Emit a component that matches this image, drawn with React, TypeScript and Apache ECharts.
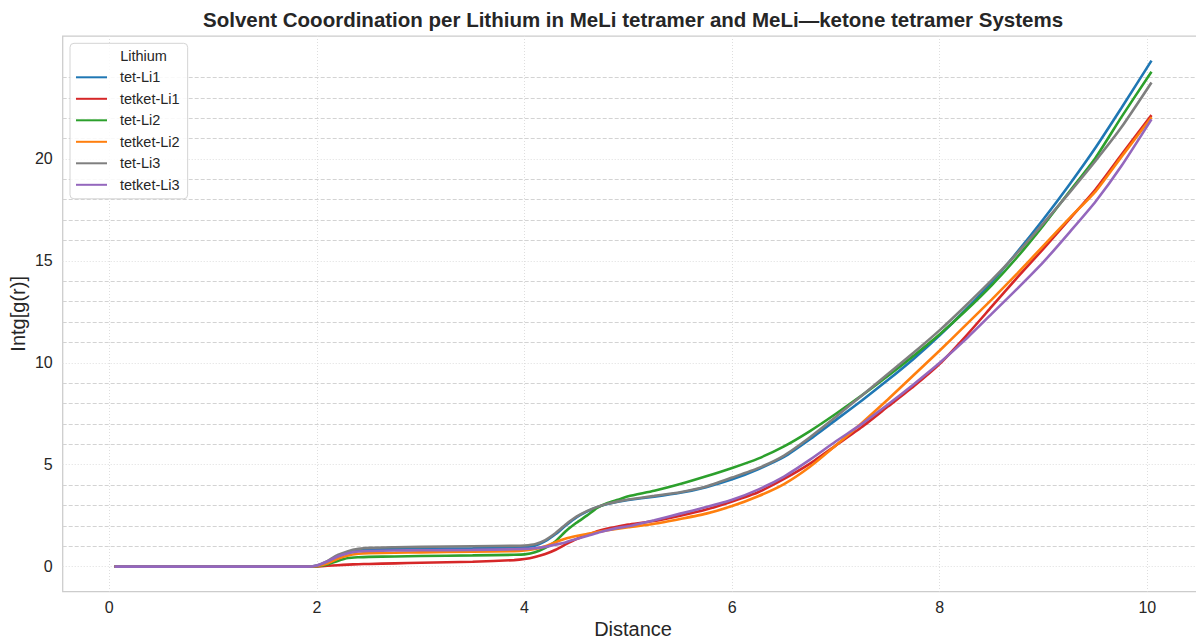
import React, { useEffect, useRef } from "react";
import * as echarts from "echarts";

// ---- data ----
const distance = [0.05, 0.5, 1.0, 1.5, 1.9, 2.0, 2.1, 2.2, 2.3, 2.4, 2.5, 2.75, 3.0, 3.5, 3.9, 4.0, 4.1, 4.2, 4.3, 4.4, 4.5, 4.6, 4.7, 4.8, 4.9, 5.0, 5.25, 5.5, 5.75, 6.0, 6.25, 6.5, 6.75, 7.0, 7.25, 7.5, 7.75, 8.0, 8.25, 8.5, 8.75, 9.0, 9.25, 9.5, 9.75, 10.04];

const tetLi1 = [0, 0, 0, 0, 0, 0.04, 0.2, 0.48, 0.68, 0.79, 0.83, 0.86, 0.88, 0.9, 0.93, 0.96, 1.03, 1.25, 1.6, 2.03, 2.42, 2.7, 2.92, 3.07, 3.18, 3.27, 3.43, 3.62, 3.9, 4.28, 4.78, 5.38, 6.25, 7.2, 8.15, 9.15, 10.2, 11.35, 12.6, 13.95, 15.45, 17.05, 18.75, 20.55, 22.5, 24.82];
const tetketLi1 = [0, 0, 0, 0, 0, 0.01, 0.04, 0.07, 0.1, 0.12, 0.13, 0.16, 0.19, 0.24, 0.32, 0.37, 0.47, 0.62, 0.83, 1.1, 1.35, 1.55, 1.74, 1.87, 1.97, 2.06, 2.24, 2.5, 2.8, 3.2, 3.65, 4.3, 5.05, 5.95, 6.85, 7.85, 8.85, 9.95, 11.3, 12.75, 14.2, 15.6, 17.05, 18.5, 20.2, 22.15];
const tetLi2 = [0, 0, 0, 0, 0, 0.02, 0.1, 0.28, 0.42, 0.46, 0.48, 0.5, 0.52, 0.55, 0.58, 0.6, 0.7, 0.92, 1.25, 1.75, 2.15, 2.5, 2.88, 3.12, 3.28, 3.45, 3.72, 4.05, 4.43, 4.84, 5.3, 5.9, 6.65, 7.5, 8.4, 9.35, 10.35, 11.4, 12.55, 13.8, 15.2, 16.75, 18.4, 20.05, 22.05, 24.28];
const tetketLi2 = [0, 0, 0, 0, 0, 0.03, 0.15, 0.38, 0.55, 0.63, 0.66, 0.68, 0.7, 0.73, 0.76, 0.79, 0.86, 1.0, 1.2, 1.38, 1.5, 1.6, 1.7, 1.78, 1.86, 1.93, 2.1, 2.34, 2.6, 2.97, 3.45, 4.05, 4.9, 5.95, 7.05, 8.2, 9.4, 10.6, 11.85, 13.1, 14.4, 15.75, 17.1, 18.4, 20.1, 22.04];
const tetLi3 = [0, 0, 0, 0, 0, 0.06, 0.27, 0.57, 0.76, 0.87, 0.92, 0.95, 0.97, 1.0, 1.02, 1.04, 1.1, 1.3, 1.65, 2.08, 2.45, 2.72, 2.93, 3.08, 3.2, 3.29, 3.47, 3.65, 3.93, 4.37, 4.83, 5.45, 6.35, 7.35, 8.4, 9.45, 10.5, 11.6, 12.8, 14.05, 15.4, 16.85, 18.35, 19.9, 21.55, 23.75];
const tetketLi3 = [0, 0, 0, 0, 0, 0.06, 0.25, 0.5, 0.66, 0.74, 0.77, 0.79, 0.8, 0.82, 0.85, 0.87, 0.9, 0.97, 1.08, 1.2, 1.35, 1.5, 1.65, 1.78, 1.9, 1.98, 2.28, 2.6, 2.92, 3.28, 3.78, 4.42, 5.25, 6.15, 7.0, 7.95, 8.95, 10.0, 11.15, 12.4, 13.65, 14.95, 16.4, 17.9, 19.65, 21.94];

const seriesNames = ["tet-Li1", "tetket-Li1", "tet-Li2", "tetket-Li2", "tet-Li3", "tetket-Li3"];
const seriesValues = [tetLi1, tetketLi1, tetLi2, tetketLi2, tetLi3, tetketLi3];
const seriesColors = ["#1f77b4", "#d62728", "#2ca02c", "#ff7f0e", "#7f7f7f", "#9467bd"];

const xTicks = [0, 2, 4, 6, 8, 10];
const yTicks = [0, 5, 10, 15, 20];
const yMinorTop = 25;

const titleText = "Solvent Cooordination per Lithium in MeLi tetramer and MeLi\u2014ketone tetramer Systems";
const legendTitle = "Lithium";
const xName = "Distance";
const yName = "Intg[g(r)]";

// ---- layout ----
const W = 1196;
const H = 639;
const FONT = "'Liberation Sans', Arial, Helvetica, sans-serif";
const TEXT = "#262626";

const xMin = -0.449;
const xMax = 10.54;
const yMin = -1.23;
const yMax = 26.03;
const plotLeft = 62.7;
const plotRight = 1203.4;
const plotTop = 36;
const plotBottom = 591.7;

export default function App() {
  const ref = useRef<HTMLDivElement>(null);

  useEffect(() => {
    const el = ref.current;
    if (!el) return;
    const chart = echarts.init(el, null, { renderer: "svg" });

    const pxX = (plotRight - plotLeft) / (xMax - xMin);
    const pxY = (plotBottom - plotTop) / (yMax - yMin);
    const xPix = (v: number) => plotLeft + (v - xMin) * pxX;
    const yPix = (v: number) => plotTop + (yMax - v) * pxY;

    const x0 = xPix(xTicks[0]);
    const x1 = xPix(xTicks[xTicks.length - 1]);
    const y0 = yPix(0);
    const yMaj = yPix(yTicks[yTicks.length - 1]);
    const yMinTop = yPix(yMinorTop);

    const baseGrid = { containLabel: false, outerBoundsMode: "none" };

    const option: any = {
      animation: false,
      backgroundColor: "#ffffff",
      textStyle: { fontFamily: FONT, color: TEXT },
      title: {
        text: titleText,
        left: (plotLeft + plotRight) / 2,
        textAlign: "center",
        top: 9,
        padding: 0,
        textStyle: { fontFamily: FONT, fontSize: 20.5, fontWeight: "bold", color: TEXT },
      },
      grid: [
        { ...baseGrid, left: plotLeft, top: plotTop, right: W - plotRight, bottom: H - plotBottom, show: true, borderColor: "#cccccc", borderWidth: 1.25, backgroundColor: "transparent" },
        { ...baseGrid, left: plotLeft, top: yMinTop, right: W - plotRight, bottom: H - y0 },
        { ...baseGrid, left: plotLeft, top: yMaj, right: W - plotRight, bottom: H - y0 },
        { ...baseGrid, left: x0, top: plotTop, right: W - x1, bottom: H - plotBottom },
      ],
      xAxis: [
        {
          gridIndex: 0, type: "value", min: xMin, max: xMax,
          axisLine: { show: false }, axisTick: { show: false }, axisLabel: { show: false }, splitLine: { show: false },
          name: xName, nameLocation: "middle", nameGap: 27,
          nameTextStyle: { fontFamily: FONT, fontSize: 20, color: TEXT },
        },
        { gridIndex: 1, type: "value", min: 0, max: 1, show: false, splitLine: { show: false } },
        { gridIndex: 2, type: "value", min: 0, max: 1, show: false, splitLine: { show: false } },
        {
          gridIndex: 3, type: "value", min: xTicks[0], max: xTicks[xTicks.length - 1], interval: xTicks[1] - xTicks[0],
          axisLine: { show: false }, axisTick: { show: false },
          axisLabel: { show: true, margin: 8, fontSize: 16, color: TEXT, fontFamily: FONT },
          splitLine: { show: true, lineStyle: { color: "#dedede", width: 1, type: [1, 2] } },
        },
      ],
      yAxis: [
        {
          gridIndex: 0, type: "value", min: yMin, max: yMax,
          axisLine: { show: false }, axisTick: { show: false }, axisLabel: { show: false }, splitLine: { show: false },
          name: yName, nameLocation: "middle", nameGap: 35, nameRotate: 90,
          nameTextStyle: { fontFamily: FONT, fontSize: 20, color: TEXT },
        },
        {
          gridIndex: 1, type: "value", min: 0, max: yMinorTop, interval: 1,
          axisLine: { show: false }, axisTick: { show: false }, axisLabel: { show: false },
          splitLine: { show: true, lineStyle: { color: ["rgba(0,0,0,0)", "#d3d3d3", "#d3d3d3", "#d3d3d3", "#d3d3d3"], width: 1, type: [4, 2] } },
        },
        {
          gridIndex: 2, type: "value", min: yTicks[0], max: yTicks[yTicks.length - 1], interval: yTicks[1] - yTicks[0],
          axisLine: { show: false }, axisTick: { show: false },
          axisLabel: { show: true, margin: 10, fontSize: 16, color: TEXT, fontFamily: FONT },
          splitLine: { show: true, lineStyle: { color: "#dedede", width: 1, type: [1, 2] } },
        },
        { gridIndex: 3, type: "value", min: 0, max: 1, show: false, splitLine: { show: false } },
      ],
      legend: {
        show: true,
        orient: "vertical",
        left: 70,
        top: 43.3,
        padding: [26, 8, 6, 6],
        itemGap: 5.5,
        itemWidth: 31,
        itemHeight: 2,
        icon: "rect",
        selectedMode: false,
        backgroundColor: "rgba(255,255,255,0.85)",
        borderColor: "#d4d4d4",
        borderWidth: 1,
        borderRadius: 4,
        textStyle: { fontFamily: FONT, fontSize: 14.5, color: TEXT, lineHeight: 16, padding: [0, 0, 0, 8] },
        data: seriesNames,
      },
      graphic: [
        {
          type: "text",
          x: 143.5,
          y: 55.5,
          z: 100,
          style: { text: legendTitle, fontFamily: FONT, fontSize: 14.5, fill: TEXT, textAlign: "center", textVerticalAlign: "middle" },
        },
      ],
      series: seriesNames.map((name, i) => ({
        name,
        type: "line",
        xAxisIndex: 0,
        yAxisIndex: 0,
        data: distance.map((d, k) => [d, seriesValues[i][k]]),
        showSymbol: false,
        symbol: "none",
        smooth: 0.2,
        color: seriesColors[i],
        lineStyle: { color: seriesColors[i], width: 2.6 },
        emphasis: { disabled: true },
        z: 2,
      })),
    };

    chart.setOption(option);
    return () => chart.dispose();
  }, []);

  return (
    <div
      ref={ref}
      style={{ position: "fixed", left: 0, top: 0, width: W, height: H, background: "#ffffff" }}
    />
  );
}
